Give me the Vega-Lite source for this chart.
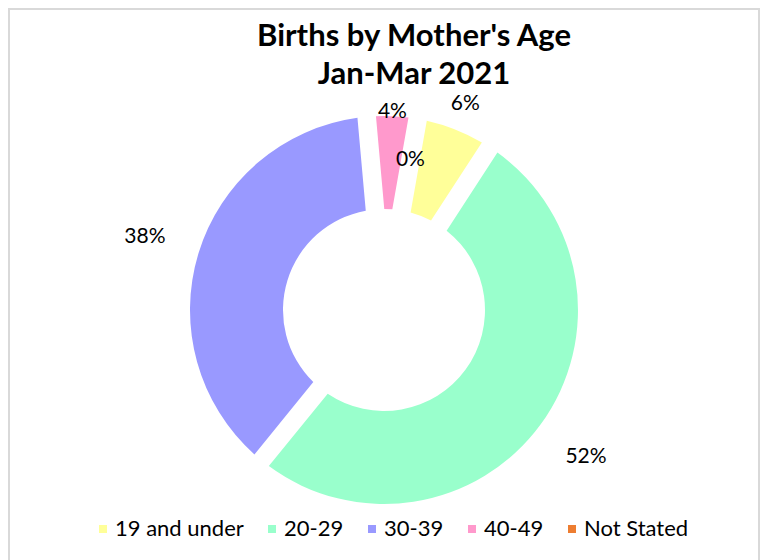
{
  "$schema": "https://vega.github.io/schema/vega-lite/v6.json",
  "width": 750,
  "height": 602,
  "autosize": {"type": "none"},
  "padding": {"left": 9, "top": 9, "right": 2, "bottom": 0},
  "background": "white",
  "view": {"stroke": "#d9d9d9", "strokeWidth": 2},
  "config": {
    "view": {"stroke": "#d9d9d9", "strokeWidth": 2},
    "font": "Lato"
  },
  "title": {
    "text": ["Births by Mother's Age", "Jan-Mar 2021"],
    "font": "Lato",
    "fontSize": 31,
    "fontWeight": "bold",
    "color": "#000000",
    "anchor": "middle",
    "dx": 30,
    "offset": -82,
    "lineHeight": 38
  },
  "data": {
    "values": [
      {"age": "19 and under", "pct": 0.064, "order": 1},
      {"age": "20-29", "pct": 0.517, "order": 2},
      {"age": "30-39", "pct": 0.377, "order": 3},
      {"age": "40-49", "pct": 0.042, "order": 4},
      {"age": "Not Stated", "pct": 0.0, "order": 5}
    ]
  },
  "encoding": {
    "theta": {
      "field": "pct",
      "type": "quantitative",
      "stack": true,
      "scale": {"domain": [0, 1], "range": [0.1745, 6.4577]}
    },
    "order": {"field": "order", "type": "quantitative"}
  },
  "layer": [
    {
      "mark": {"type": "arc", "innerRadius": 101, "outerRadius": 194, "padAngle": 0.085},
      "encoding": {
        "color": {
          "field": "age",
          "type": "nominal",
          "scale": {
            "domain": ["19 and under", "20-29", "30-39", "40-49", "Not Stated"],
            "range": ["#FFFF99", "#99FFCC", "#9999FF", "#FF99CC", "#ED7D31"]
          },
          "legend": {
            "title": null,
            "orient": "none",
            "direction": "horizontal",
            "legendX": 83,
            "legendY": 509,
            "symbolType": "square",
            "symbolSize": 64,
            "symbolStrokeWidth": 0,
            "labelFont": "Lato",
            "labelFontSize": 22,
            "labelColor": "#000000",
            "labelOffset": 1,
            "columnPadding": 17,
            "labelLimit": 300
          }
        }
      }
    },
    {
      "mark": {"type": "text", "font": "Lato", "fontSize": 21, "color": "#000000", "align": "center", "baseline": "middle"},
      "encoding": {
        "detail": {"field": "age", "type": "nominal"},
        "text": {"field": "pct", "type": "quantitative", "format": ".0%"},
        "radius": {
          "field": "pct",
          "type": "quantitative",
          "scale": {"type": "linear", "domain": [0, 0.09], "range": [152, 250], "clamp": true, "zero": false}
        }
      }
    }
  ]
}
